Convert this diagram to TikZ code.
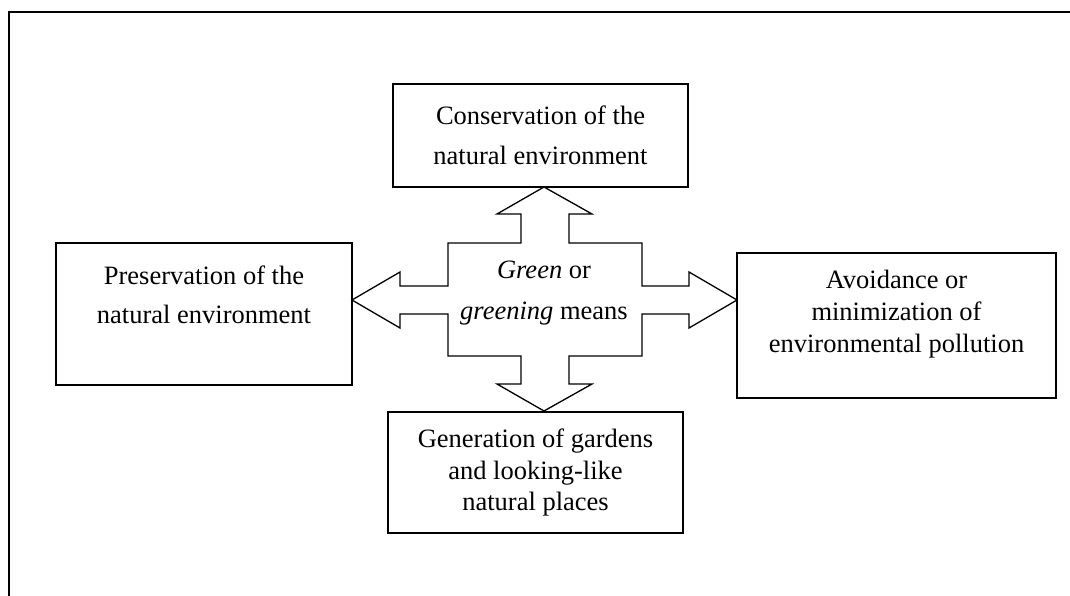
\documentclass[tikz,border=0pt]{standalone}
\usepackage{fontspec}
\setmainfont{Liberation Serif}
\usetikzlibrary{calc}
\def\boxfont#1{\fontsize{26.5}{#1}\selectfont}

\begin{document}
\begin{tikzpicture}[x=1pt,y=-1pt,
		box/.style={draw, line width=1.5pt, align=center, inner sep=0pt},
		means/.style={align=center, inner sep=0pt}]
				\useasboundingbox (0,0) rectangle (1070,596);
				\draw[line width=2pt] (9,596) -- (9,12) -- (1070,12);
				
				\node[box, font=\boxfont{40}, minimum width=295, minimum height=103] (cons) at (540.5,135.5) {Conservation of the\\natural environment};
				\node[box, font=\boxfont{31.5}, minimum width=295, minimum height=121] (gen) at (535.5,472.5) {Generation of gardens\\and looking-like\\natural places};
				\node[box, font=\boxfont{39}, anchor=base, minimum width=296, text height=80, text depth=62] (pres) at (204,323) {Preservation of the\\natural environment};
				\node[box, font=\boxfont{32}, anchor=base, minimum width=319, text height=99, text depth=46] (avoid) at (896.5,352) {Avoidance or\\minimization of\\environmental pollution};
				
				\draw[line width=1.3pt] (544,187) -- (592,214) -- (569,214) -- (569,243) -- (642,243) -- (642,286)
					-- (689,286) -- (689,272) -- (737,300) -- (689,328) -- (689,314) -- (642,314)
					-- (642,356) -- (569,356) -- (569,384) -- (592,384) -- (544,411) -- (497,384)
					-- (521,384) -- (521,356) -- (448,356) -- (448,314) -- (400,314) -- (400,328)
					-- (352,300) -- (400,272) -- (400,286) -- (448,286) -- (448,243) -- (521,243)
					-- (521,214) -- (497,214) -- cycle;
				\node[means, font=\boxfont{41}] (green) at (544,293) {\textit{Green} or\\\textit{greening} means};
			\end{tikzpicture}
\end{document}
